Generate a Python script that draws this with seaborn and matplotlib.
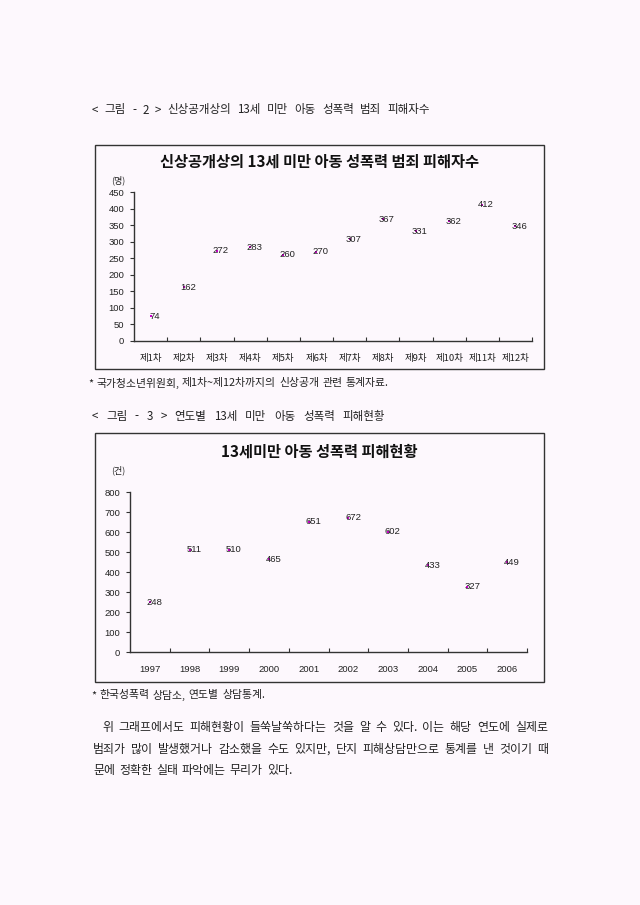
import numpy as np
import pandas as pd
import seaborn as sns
import matplotlib
matplotlib.use("Agg")
import matplotlib.pyplot as plt
from matplotlib.patches import Rectangle

sns.set_theme(style="white")
plt.rcParams["font.family"] = ["Noto Sans CJK KR", "DejaVu Sans"]

# ---------------- data ----------------
rounds = ["제1차", "제2차", "제3차", "제4차", "제5차", "제6차",
          "제7차", "제8차", "제9차", "제10차", "제11차", "제12차"]
victims = [74, 162, 272, 283, 260, 270, 307, 367, 331, 362, 412, 346]

years = ["1997", "1998", "1999", "2000", "2001",
         "2002", "2003", "2004", "2005", "2006"]
cases = [248, 511, 510, 465, 651, 672, 602, 433, 327, 449]

title1 = "신상공개상의 13세 미만 아동 성폭력 범죄 피해자수"
title2 = "13세미만 아동 성폭력 피해현황"
caption1 = "< 그림 - 2 > 신상공개상의 13세 미만 아동 성폭력 범죄 피해자수"
caption2 = "< 그림 - 3 > 연도별 13세 미만 아동 성폭력 피해현황"
note1 = "* 국가청소년위원회, 제1차~제12차까지의 신상공개 관련 통계자료."
note2 = "* 한국성폭력 상담소, 연도별 상담통계."
para = ["위 그래프에서도 피해현황이 들쑥날쑥하다는 것을 알 수 있다. 이는 해당 연도에 실제로",
        "범죄가 많이 발생했거나 감소했을 수도 있지만, 단지 피해상담만으로 통계를 낸 것이기 때",
        "문에 정확한 실태 파악에는 무리가 있다."]

# ---------------- figure ----------------
W, H = 640, 905
BG = "#FDF8FD"
INK = "#222222"
fig = plt.figure(figsize=(W / 100, H / 100), dpi=100, facecolor=BG)
renderer = fig.canvas.get_renderer()


def fx(x):
    return x / W


def fy(y):
    return 1 - y / H


def px_axes(l, t, r, b):
    return fig.add_axes([fx(l), fy(b), (r - l) / W, (b - t) / H])


def spread(words_line, x0, x1, y, size=8):
    words = words_line.split(" ")
    texts = [fig.text(0, fy(y), w, fontsize=size, color=INK, va="center", ha="left")
             for w in words]
    widths = [t.get_window_extent(renderer).width for t in texts]
    gap = (x1 - x0 - sum(widths)) / max(len(words) - 1, 1)
    x = x0
    for t, w in zip(texts, widths):
        t.set_x(fx(x))
        x += w + gap


# frames
for (l, t, r, b) in [(95, 145, 544, 369), (95, 433, 544, 682)]:
    fig.patches.append(Rectangle((fx(l), fy(b)), (r - l) / W, (b - t) / H,
                                 transform=fig.transFigure, fill=False,
                                 edgecolor="#333333", lw=1.0))


def draw(ax, cats, vals, ymax, ystep, xfont):
    df = pd.DataFrame({"cat": cats, "val": vals})
    sns.scatterplot(data=df, x="cat", y="val", ax=ax, color="#CC00CC", s=2.5,
                    marker="s", linewidth=0, legend=False, zorder=2)
    n = len(cats)
    ax.set_xlim(-0.5, n - 0.5)
    ax.set_ylim(0, ymax)
    ax.set_yticks(np.arange(0, ymax + 1, ystep))
    ax.set_xticks(range(n))
    ax.set_xticklabels(cats, fontsize=6.8, color=INK, family=xfont)
    ax.set_xticks(np.arange(0.5, n, 1.0), minor=True)
    ax.tick_params(axis="x", which="major", length=0, pad=9)
    ax.tick_params(axis="x", which="minor", direction="in", length=3,
                   width=0.8, color="#333333", bottom=True)
    ax.tick_params(axis="y", direction="out", length=3, width=0.8,
                   color="#333333", labelsize=6.8, labelcolor=INK, pad=4, left=True)
    for lab in ax.get_yticklabels():
        lab.set_family(["Liberation Sans", "DejaVu Sans"])
    for s in ["top", "right"]:
        ax.spines[s].set_visible(False)
    for s in ["left", "bottom"]:
        ax.spines[s].set_color("#333333")
        ax.spines[s].set_linewidth(1.0)
    ax.set_xlabel("")
    ax.set_ylabel("")
    ax.patch.set_visible(False)
    ax.grid(False)
    for i, v in enumerate(vals):
        ax.text(i + 0.12, v, str(v), ha="center", va="center", fontsize=6.8, color=INK,
                family=["Liberation Sans", "DejaVu Sans"], zorder=3)


ax1 = px_axes(134, 192, 532, 341)
draw(ax1, rounds, victims, 450, 50, ["Noto Sans CJK KR", "DejaVu Sans"])
ax2 = px_axes(130, 492, 527, 652)
draw(ax2, years, cases, 800, 100, ["Liberation Sans", "DejaVu Sans"])

# titles and units
fig.text(fx(319), fy(162), title1, ha="center", va="center", fontsize=11,
         fontweight="bold", color="#111111")
fig.text(fx(319), fy(452), title2, ha="center", va="center", fontsize=11,
         fontweight="bold", color="#111111")
fig.text(fx(118), fy(180), "(명)", ha="center", va="center", fontsize=6.5, color=INK)
fig.text(fx(118), fy(470), "(건)", ha="center", va="center", fontsize=6.5, color=INK)

# surrounding document text
spread(caption1, 92, 430, 110, size=8.3)
spread(note1, 88, 388, 383, size=7.8)
spread(caption2, 92, 385, 416, size=8.3)
spread(note2, 91, 265, 695, size=7.8)
spread(para[0], 102, 548, 727, size=8.6)
spread(para[1], 93, 548, 749, size=8.6)
spread(para[2], 93, 292, 770, size=8.6)

fig.savefig("out.png", dpi=100, facecolor=BG)
